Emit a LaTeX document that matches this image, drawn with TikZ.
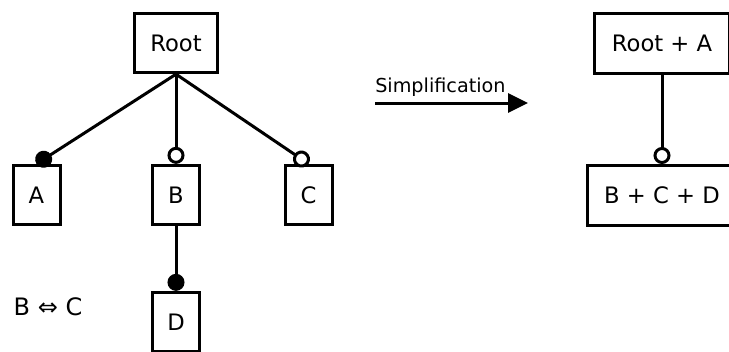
\documentclass[tikz,border=0pt]{standalone}
\usepackage{fontspec}
\setmainfont{DejaVu Sans}
\usetikzlibrary{arrows.meta}
\begin{document}
\begin{tikzpicture}[x=0.75pt,y=-0.75pt,
  box/.style={draw,line width=2.25pt,inner sep=0pt,font=\fontsize{17pt}{20pt}\selectfont},
  rootbox/.style={box,minimum width=62pt,minimum height=44.5pt},
  leaf/.style={box,minimum width=35.25pt,minimum height=44.5pt},
  conn/.style={line width=2.25pt},
  mand/.style={conn,-{Circle[length=12.75pt]}},
  opt/.style={conn,-{Circle[open,length=12.75pt,fill=white]}}]
\useasboundingbox (0,0) rectangle (729,351);
\clip (0,0) rectangle (729,351);
\node[rootbox] (root) at (176,43) {Root};
\node[leaf] (A) at (36.5,195) {A};
\node[leaf] (B) at (176,195) {B};
\node[leaf] (C) at (308.5,195) {C};
\node[leaf] (D) at (176,322) {D};
\draw[mand] (root.south) -- (A.north);
\draw[opt] (root.south) -- (B.north);
\draw[opt] (root.south) -- (C.north);
\draw[mand] (B.south) -- (D.north);
\node[font=\fontsize{18pt}{20pt}\selectfont,inner sep=0pt] (eq) at (48,307) {B ⇔ C};
\coordinate (s1) at (375,103);
\coordinate (s2) at (528,103);
\draw[conn,-{Triangle[length=15pt,width=14.25pt]}] (s1) -- (s2);
\node[anchor=base west,inner sep=0pt,font=\fontsize{14.4pt}{17pt}\selectfont] (simp) at (375,92) {Simplification};
\node[box,minimum width=101.5pt,minimum height=45pt] (ra) at (662,43.5) {Root + A};
\node[box,minimum width=112pt,minimum height=45pt] (bcd) at (662,195.5) {B + C + D};
\draw[opt] (ra.south) -- (bcd.north);
\end{tikzpicture}
\end{document}
